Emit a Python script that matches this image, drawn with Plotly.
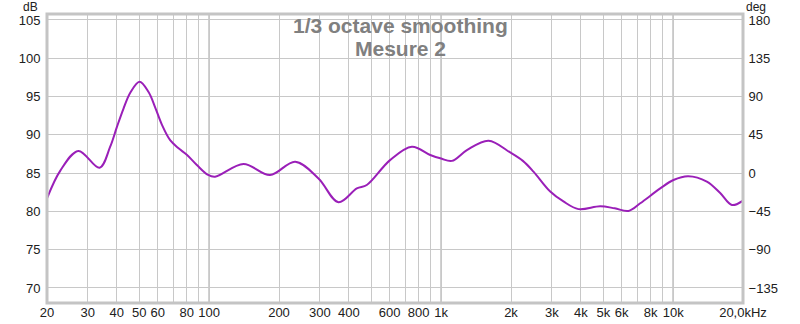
import plotly.graph_objects as go

# ---- data ----
freq_hz = [20, 22.8, 27.3, 33.7, 37.45, 40.0, 42.7, 45.7, 50.1, 54.8, 58.5, 62.6, 67.9, 73.8,
           80.1, 88.5, 99, 106, 140.6, 183, 235, 296, 361, 433, 478, 602, 748, 897, 1000,
           1112, 1291, 1600, 1984, 2250, 2500, 2952, 3366, 3908, 4847, 5600, 6420, 7213,
           8797, 10029, 11610, 13970, 15950, 17914, 20000]
spl_db = [81.7, 85.3, 87.9, 85.7, 88.45, 91.0, 93.4, 95.5, 96.94, 95.6, 93.6, 91.3, 89.3, 88.24,
          87.4, 86.06, 84.76, 84.54, 86.2, 84.76, 86.5, 84.3, 81.2, 83.0, 83.45, 86.7, 88.45, 87.37, 86.9,
          86.6, 88.0, 89.24, 87.7, 86.6, 85.2, 82.6, 81.3, 80.3, 80.67, 80.4, 80.06, 81.06,
          83.0, 84.1, 84.6, 83.9, 82.4, 80.84, 81.4]

x_grid_vals = [20, 30, 40, 50, 60, 70, 80, 90, 100, 200, 300, 400, 500, 600, 700, 800, 900,
               1000, 2000, 3000, 4000, 5000, 6000, 7000, 8000, 9000, 10000, 20000]
x_grid_text = ["20", "30", "40", "50", "60", "", "80", "", "100", "200", "300", "400", "", "600", "",
               "800", "", "1k", "2k", "3k", "4k", "5k", "6k", "", "8k", "", "10k", "20,0kHz"]
x_major = [100, 1000, 10000]

db_ticks = [70, 75, 80, 85, 90, 95, 100, 105]
deg_ticks = [-135, -90, -45, 0, 45, 90, 135, 180]

title_line1 = "1/3 octave smoothing"
title_line2 = "Mesure 2"

# ---- figure ----
db_range = [68.04, 105.78]
deg_range = [(v - 85) * 9 for v in db_range]

fig = go.Figure()
fig.add_trace(go.Scatter(x=freq_hz, y=spl_db, mode="lines",
                         line=dict(color="#9a1fb8", width=2, shape="spline", smoothing=1.0),
                         hoverinfo="skip", showlegend=False))
# invisible trace for right axis
fig.add_trace(go.Scatter(x=[20], y=[0], yaxis="y2", mode="markers",
                         marker=dict(opacity=0), showlegend=False, hoverinfo="skip"))

tick_font = dict(family="Liberation Sans, Arial, sans-serif", size=13, color="#202020")

fig.update_layout(
    width=800, height=324,
    separators=",.",
    margin=dict(l=47, r=57, t=14, b=21, autoexpand=False),
    paper_bgcolor="white", plot_bgcolor="white",
    xaxis=dict(type="log", range=[1.30103, 4.30103], tickvals=x_grid_vals, ticktext=x_grid_text,
               showgrid=True, gridcolor="#c8c8c8", gridwidth=1, zeroline=False,
               ticks="", tickangle=0,
               automargin=False, tickfont=tick_font, showline=False),
    yaxis=dict(range=db_range, tickvals=db_ticks, showgrid=True, gridcolor="#c8c8c8",
               gridwidth=1, zeroline=False, ticks="outside", ticklen=3, automargin=False,
               tickcolor="rgba(0,0,0,0)", tickfont=tick_font, showline=False),
    yaxis2=dict(range=deg_range, tickvals=deg_ticks, overlaying="y", side="right",
                showgrid=False, zeroline=False, ticks="outside", ticklen=2, automargin=False,
                tickcolor="rgba(0,0,0,0)", tickfont=tick_font, showline=False),
)

for xm in x_major:
    fig.add_shape(type="line", xref="x", yref="paper", x0=xm, x1=xm, y0=0, y1=1,
                  line=dict(color="#7a7a7a", width=1), layer="below")

fig.add_shape(type="rect", xref="paper", yref="paper", x0=0, x1=1, y0=0, y1=1,
              line=dict(color="#c4c4c4", width=3), layer="above")

title_font = dict(family="Liberation Sans, Arial, sans-serif", size=21, color="#808080")
fig.add_annotation(text="<b>" + title_line1 + "</b>", xref="paper", yref="paper",
                   x=0.508, y=1 - (26 - 14) / 289, yanchor="middle", xanchor="center",
                   showarrow=False, font=title_font, borderpad=0)
fig.add_annotation(text="<b>" + title_line2 + "</b>", xref="paper", yref="paper",
                   x=0.508, y=1 - (49 - 14) / 289, yanchor="middle", xanchor="center",
                   showarrow=False, font=title_font, borderpad=0)

lab_font = dict(family="Liberation Sans, Arial, sans-serif", size=12, color="#202020")
fig.add_annotation(text="dB", xref="paper", yref="paper", x=-0.012, y=1.0, xanchor="right",
                   yanchor="bottom", showarrow=False, font=lab_font, yshift=-1, borderpad=0)
fig.add_annotation(text="deg", xref="paper", yref="paper", x=1.003, y=1.0, xanchor="left",
                   yanchor="bottom", showarrow=False, font=lab_font, yshift=-1, borderpad=0)

fig.write_html("out.html")
